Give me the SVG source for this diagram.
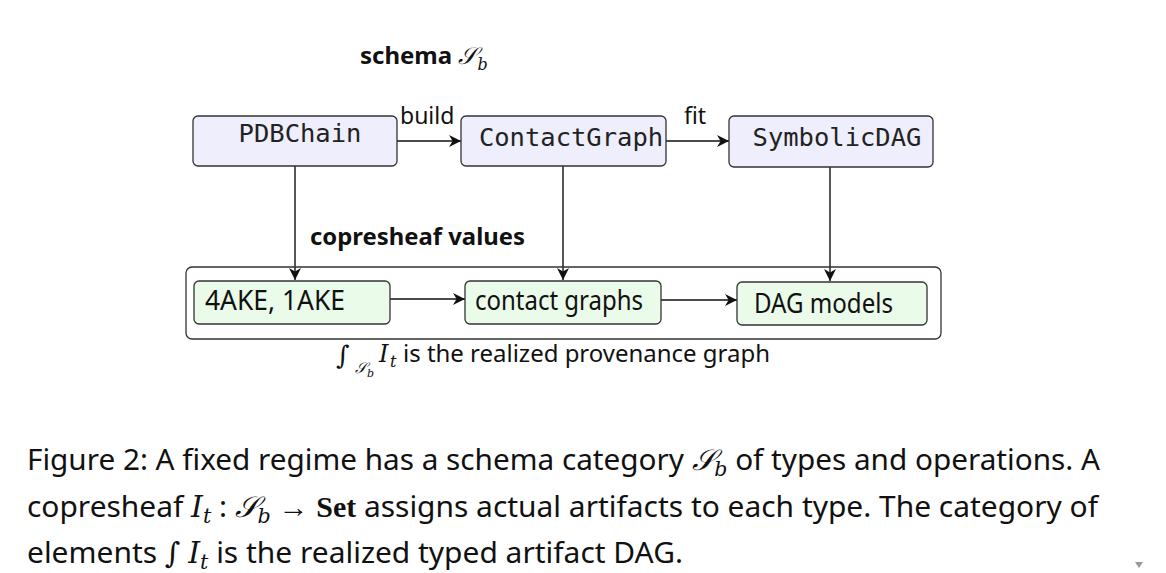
<svg xmlns="http://www.w3.org/2000/svg" width="1166" height="573" viewBox="0 0 1166 573">
<style>
.schema{fill:#eeeefc;stroke:#333;stroke-width:1.3}
.val{fill:#eafbea;stroke:#333;stroke-width:1.3}
.mono{font-family:"DejaVu Sans Mono","Liberation Mono",monospace;font-size:25.5px;fill:#222}
.sans{font-family:"Noto Sans","Open Sans",sans-serif;fill:#111}
.edge{stroke:#111;stroke-width:1.4;fill:none;marker-end:url(#ah)}
.math{font-family:"DejaVu Serif","Liberation Serif",serif;font-style:italic}
</style>
<defs>
<marker id="ah" viewBox="0 0 10 10" refX="10" refY="5" markerWidth="12" markerHeight="12" markerUnits="userSpaceOnUse" orient="auto">
<path d="M0,0 L10,5 L0,10 L3,5 Z" fill="#111"/>
</marker>
</defs>
<rect width="1166" height="573" fill="#fff"/>
<text x="360" y="64" class="sans" font-size="24" font-weight="bold">schema <tspan class="math" font-weight="normal">𝒮</tspan><tspan class="math" font-weight="normal" font-size="16" dy="6">b</tspan></text>

<g id="connectors">
<path class="edge" d="M397,141 H461"/>
<path class="edge" d="M666,141 H729"/>
<path class="edge" d="M295,166 V280"/>
<path class="edge" d="M563,166 V280"/>
<path class="edge" d="M830,167 V281"/>
<path class="edge" d="M390,299 H465"/>
<path class="edge" d="M661,300 H737"/>
<text x="400" y="124" class="sans" font-size="23">build</text>
<text x="684" y="124" class="sans" font-size="23">fit</text>
</g>

<g id="PDBChain"><rect class="schema" x="193" y="116" width="204" height="50" rx="5"/><text x="300" y="142" class="mono" text-anchor="middle">PDBChain</text></g>
<g id="ContactGraph"><rect class="schema" x="461" y="116" width="205" height="50" rx="5"/><text x="571" y="146" class="mono" text-anchor="middle">ContactGraph</text></g>
<g id="SymbolicDAG"><rect class="schema" x="729" y="116" width="204" height="51" rx="5"/><text x="837" y="146" class="mono" text-anchor="middle">SymbolicDAG</text></g>

<text x="310" y="245" class="sans" font-size="24" font-weight="bold" textLength="215" lengthAdjust="spacingAndGlyphs">copresheaf values</text>

<g id="container"><rect x="186" y="267" width="755" height="72" rx="6" fill="none" stroke="#333" stroke-width="1.3"/></g>
<g id="v4AKE"><rect class="val" x="194" y="281" width="196" height="43" rx="5"/><text x="205" y="310" class="sans" font-size="27" textLength="140" lengthAdjust="spacingAndGlyphs">4AKE, 1AKE</text></g>
<g id="contactgraphs"><rect class="val" x="465" y="281" width="196" height="43" rx="5"/><text x="475" y="310" class="sans" font-size="27" textLength="168" lengthAdjust="spacingAndGlyphs">contact graphs</text></g>
<g id="DAGmodels"><rect class="val" x="737" y="282" width="190" height="43" rx="5"/><text x="754" y="313" class="sans" font-size="27" textLength="139" lengthAdjust="spacingAndGlyphs">DAG models</text></g>

<g class="sans" font-size="24">
<text x="336" y="364" class="math" font-size="26">∫</text>
<text x="355" y="373" class="math" font-size="15">𝒮</text>
<text x="367" y="377" class="math" font-size="11">b</text>
<text x="379" y="362" class="math" font-size="24">I</text>
<text x="390" y="367" class="math" font-size="16">t</text>
<text x="403" y="362" textLength="367" lengthAdjust="spacingAndGlyphs">is the realized provenance graph</text>
</g>

<g font-size="29" class="sans">
<text x="27" y="470" class="sans" textLength="1073" lengthAdjust="spacingAndGlyphs">Figure 2: A fixed regime has a schema category <tspan class="math">𝒮</tspan><tspan class="math" font-size="20" dy="6">b</tspan><tspan dy="-6"> of types and operations. A</tspan></text>
<text x="27" y="517" class="sans" textLength="1071" lengthAdjust="spacingAndGlyphs">copresheaf <tspan class="math">I</tspan><tspan class="math" font-size="20" dy="6">t</tspan><tspan dy="-6"> : </tspan><tspan class="math">𝒮</tspan><tspan class="math" font-size="20" dy="6">b</tspan><tspan dy="-6"> → </tspan><tspan font-family="Liberation Serif" font-weight="bold">Set</tspan> assigns actual artifacts to each type. The category of</text>
<text x="27" y="563" class="sans" textLength="656" lengthAdjust="spacingAndGlyphs">elements <tspan class="math">∫</tspan> <tspan class="math">I</tspan><tspan class="math" font-size="20" dy="6">t</tspan><tspan dy="-6"> is the realized typed artifact DAG.</tspan></text>
</g>
<path d="M1135,562 L1143,562 L1139,568 Z" fill="#999"/>
</svg>
